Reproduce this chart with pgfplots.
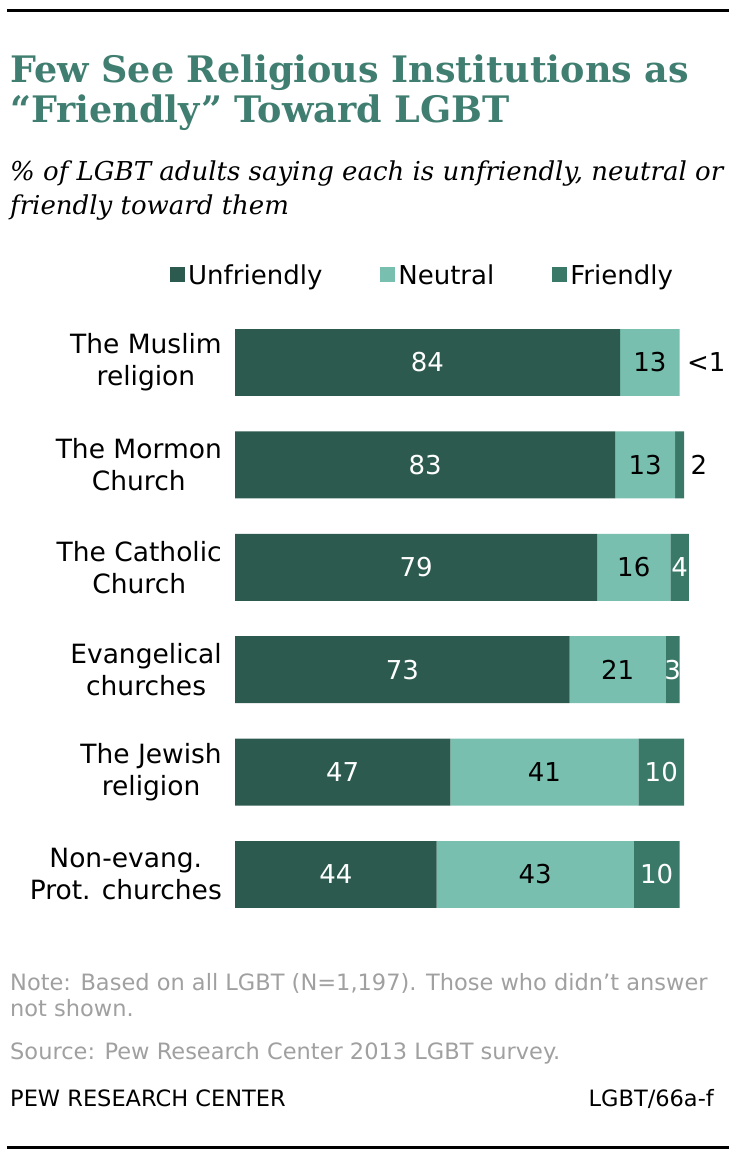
\documentclass[border=0pt]{standalone}
\usepackage{pgfplots}
\pgfplotsset{compat=1.18}
\usepackage{pgfplotstable}
\usepackage{fontspec}
\setmainfont{DejaVu Sans}
\newfontfamily\titlefont{DejaVu Serif}

\definecolor{unf}{HTML}{2D5A4E}
\definecolor{neu}{HTML}{78BFAF}
\definecolor{fri}{HTML}{3A7868}
\definecolor{ttl}{HTML}{3F7E70}
\definecolor{notegray}{HTML}{A0A0A0}

% cat 5 = top row (Muslim)
\pgfplotstableread{
cat unf neu fri
5 84 13 0
4 83 13 2
3 79 16 4
2 73 21 3
1 47 41 10
0 44 43 10
}\datatable

\pgfplotstableread{
x y lab
42 5 84
41.5 4 83
39.5 3 79
36.5 2 73
23.5 1 47
22 0 44
93 1 10
92 0 10
97 3 4
95.5 2 3
}\whitelabels

\pgfplotstableread{
x y lab
90.5 5 13
89.5 4 13
87 3 16
83.5 2 21
67.5 1 41
65.5 0 43
102.8 5 <1
101.2 4 2
}\blacklabels

\begin{document}
\begin{tikzpicture}[x=1pt,y=1pt]
\path[use as bounding box] (0,0) rectangle (736,1161);
\draw[line width=3pt] (7,1150) -- (729,1150);
\draw[line width=3pt] (7,13) -- (729,13);

\node[anchor=base west, inner sep=0pt, text=ttl, font=\titlefont\bfseries\fontsize{36.5}{40}\selectfont] at (10,{1161-83}) {Few See Religious Institutions as};
\node[anchor=base west, inner sep=0pt, text=ttl, font=\titlefont\bfseries\fontsize{36.5}{40}\selectfont] at (10,{1161-123}) {“Friendly” Toward LGBT};
\node[anchor=base west, inner sep=0pt, font=\titlefont\itshape\fontsize{26}{28}\selectfont] at (10,{1161-181}) {\% of LGBT adults saying each is unfriendly, neutral or};
\node[anchor=base west, inner sep=0pt, font=\titlefont\itshape\fontsize{26}{28}\selectfont] at (10,{1161-215}) {friendly toward them};

\node[anchor=base west, inner sep=0pt, text=notegray, font=\fontsize{22.5}{24}\selectfont] at (10,{1161-991}) {Note: Based on all LGBT (N=1,197). Those who didn't answer};
\node[anchor=base west, inner sep=0pt, text=notegray, font=\fontsize{22.5}{24}\selectfont] at (10,{1161-1017}) {not shown.};
\node[anchor=base west, inner sep=0pt, text=notegray, font=\fontsize{22.5}{24}\selectfont] at (10,{1161-1060}) {Source: Pew Research Center 2013 LGBT survey.};
\node[anchor=base west, inner sep=0pt, font=\fontsize{22.5}{24}\selectfont] at (10,{1161-1107}) {PEW RESEARCH CENTER};
\node[anchor=base east, inner sep=0pt, font=\fontsize{22.5}{24}\selectfont] at (714,{1161-1107}) {LGBT/66a-f};

\begin{axis}[
    at={(235pt,849.7pt)}, anchor=north west,
    scale only axis, width=458.33pt, height=614.4pt,
    xbar stacked, bar width=0.654,
    xmin=0, xmax=100, ymin=-0.5, ymax=5.5,
    xtick=\empty,
    ytick={0,...,5},
    yticklabels={{Non-evang.\\Prot. churches},{The Jewish\\religion},{Evangelical\\churches},{The Catholic\\Church},{The Mormon\\Church},{The Muslim\\religion}},
    yticklabel style={align=center, inner sep=0pt, xshift=-13pt, font=\fontsize{26.5}{32}\selectfont},
    axis line style={draw=none}, major tick length=0pt,
    clip=false,
    legend columns=-1,
    legend image code/.code={\fill[#1] (0pt,-7pt) rectangle (15pt,8pt);},
    legend style={draw=none, fill=none, at={(-0.1418,1.059)}, anchor=west,
        inner sep=0pt, font=\fontsize{26}{30}\selectfont,
        nodes={inner sep=0pt},
        /tikz/every odd column/.append style={column sep=3pt},
        /tikz/every even column/.append style={column sep=58pt}},
]
\addplot[fill=unf, draw=none] table[x=unf, y=cat] {\datatable};
\addplot[fill=neu, draw=none] table[x=neu, y=cat] {\datatable};
\addplot[fill=fri, draw=none] table[x=fri, y=cat] {\datatable};
\legend{Unfriendly,Neutral,Friendly}
\end{axis}

\begin{axis}[
    at={(235pt,849.7pt)}, anchor=north west,
    scale only axis, width=458.33pt, height=614.4pt,
    xmin=0, xmax=100, ymin=-0.5, ymax=5.5,
    hide axis, clip=false,
]
\addplot[only marks, mark=none,
    nodes near coords, point meta=explicit symbolic,
    every node near coord/.append style={anchor=center, text=white, font=\fontsize{26}{30}\selectfont}]
    table[x=x, y=y, meta=lab] {\whitelabels};
\addplot[only marks, mark=none,
    nodes near coords, point meta=explicit symbolic,
    every node near coord/.append style={anchor=center, text=black, font=\fontsize{26}{30}\selectfont}]
    table[x=x, y=y, meta=lab] {\blacklabels};
\end{axis}
\end{tikzpicture}
\end{document}
